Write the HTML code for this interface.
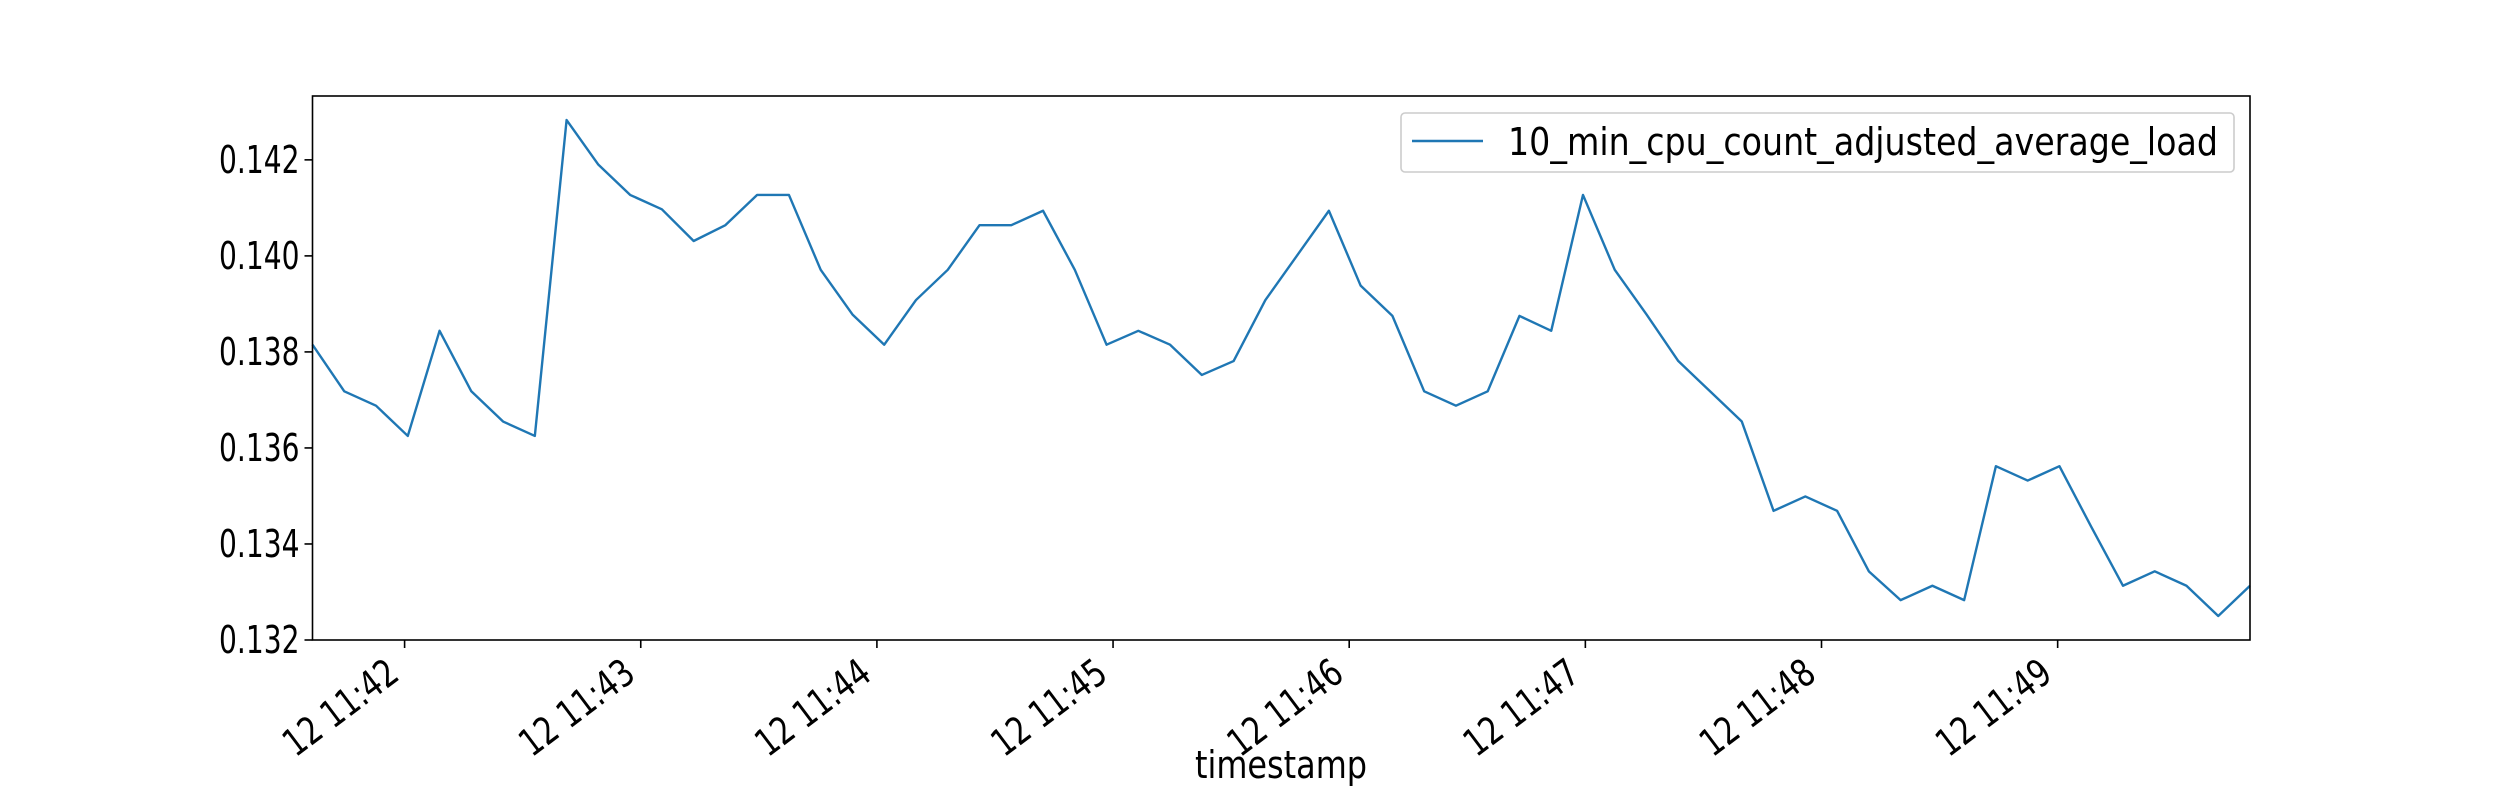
<!DOCTYPE html>
<html><head><meta charset="utf-8"><style>
html,body{margin:0;padding:0;background:#fff;}
svg{display:block;}
text{font-family:"DejaVu Sans","Liberation Sans",sans-serif;fill:#000;}
</style></head><body>
<svg id="chart" width="2500" height="800" viewBox="0 0 2500 800" xmlns="http://www.w3.org/2000/svg">
<rect x="0" y="0" width="2500" height="800" fill="#fff"/>
<g id="axes"></g>
</svg>
<script>
const values = [0.13815,0.13718,0.13688,0.13625,0.13844,0.13718,0.13655,0.13625,0.14283,0.1419,
0.14127,0.14097,0.14031,0.14064,0.14127,0.14127,0.13971,0.13878,0.13815,0.13908,
0.13971,0.14064,0.14064,0.14094,0.13971,0.13815,0.13844,0.13815,0.13752,0.13781,
0.13908,0.14001,0.14094,0.13938,0.13875,0.13718,0.13688,0.13718,0.13875,0.13844,
0.14127,0.13971,0.13878,0.13781,0.13718,0.13655,0.13469,0.13499,0.13469,0.13343,
0.13283,0.13313,0.13283,0.13562,0.13532,0.13562,0.13436,0.13313,0.13343,0.13313,
0.1325,0.13313];
const startSec = 41*60 + 36.6;   // 11:41:36.6
const stepSec = 8.07;
const yTicks = [0.132,0.134,0.136,0.138,0.140,0.142];
const yTickLabels = ["0.132","0.134","0.136","0.138","0.140","0.142"];
const xTickMinutes = [42,43,44,45,46,47,48,49];
const xTickLabels = ["12 11:42","12 11:43","12 11:44","12 11:45","12 11:46","12 11:47","12 11:48","12 11:49"];
const seriesName = "10_min_cpu_count_adjusted_average_load";

const NS="http://www.w3.org/2000/svg";
const L=312.5,R=2250,T=96,B=640;
const yMin=0.132,yMax=0.14333;
const times = values.map((v,i)=>startSec+i*stepSec);
const tMin=times[0], tMax=times[times.length-1];
const xs=t=>L+(t-tMin)/(tMax-tMin)*(R-L);
const ys=v=>B-(v-yMin)/(yMax-yMin)*(B-T);
const g=document.getElementById('axes');
function mk(tag,attrs,parent){const e=document.createElementNS(NS,tag);for(const k in attrs)e.setAttribute(k,attrs[k]);(parent||g).appendChild(e);return e;}

const pts=values.map((v,i)=>xs(times[i]).toFixed(2)+","+ys(v).toFixed(2)).join(" ");
const line=mk('polyline',{points:pts,fill:'none',stroke:'#1f77b4','stroke-width':2.4,'stroke-linejoin':'round'});



const frame=mk('rect',{x:L,y:T,width:R-L,height:B-T,fill:'none',stroke:'#000','stroke-width':1.6});



yTicks.forEach((v,i)=>{
  const y=ys(v);
  const tk=mk('line',{x1:L-8,x2:L,y1:y,y2:y,stroke:'#000','stroke-width':1.6});
  
  
  const tx=mk('text',{x:0,y:0,'font-size':38,'text-anchor':'end',transform:`translate(${L-13},${y+13}) scale(0.74,1)`});
  tx.textContent=yTickLabels[i];
  
  
});

xTickMinutes.forEach((m,i)=>{
  const x=xs(m*60);
  const tk=mk('line',{x1:x,x2:x,y1:B,y2:B+8,stroke:'#000','stroke-width':1.6});
  
  
  const tx=mk('text',{x:0,y:0,'font-size':38,'text-anchor':'end',transform:`translate(${x-20},${B+16}) rotate(-37) scale(0.78,1)`});
  tx.setAttribute('dominant-baseline','hanging');
  tx.textContent=xTickLabels[i];
  
  
});

const xt=mk('text',{x:0,y:0,'font-size':38,'text-anchor':'middle',transform:`translate(1281,778) scale(0.84,1)`});
xt.textContent="timestamp";



const lg=mk('g',{});


mk('rect',{x:1401,y:113,width:833,height:59,rx:4,fill:'#fff',stroke:'#cccccc','stroke-width':1.6},lg);
const ll=mk('line',{x1:1412,x2:1483,y1:141,y2:141,stroke:'#1f77b4','stroke-width':2.4},lg);


const lt=mk('text',{x:1508,y:155,'font-size':38,textLength:710,lengthAdjust:'spacingAndGlyphs'},lg);
lt.textContent=seriesName;


</script>
</body></html>
